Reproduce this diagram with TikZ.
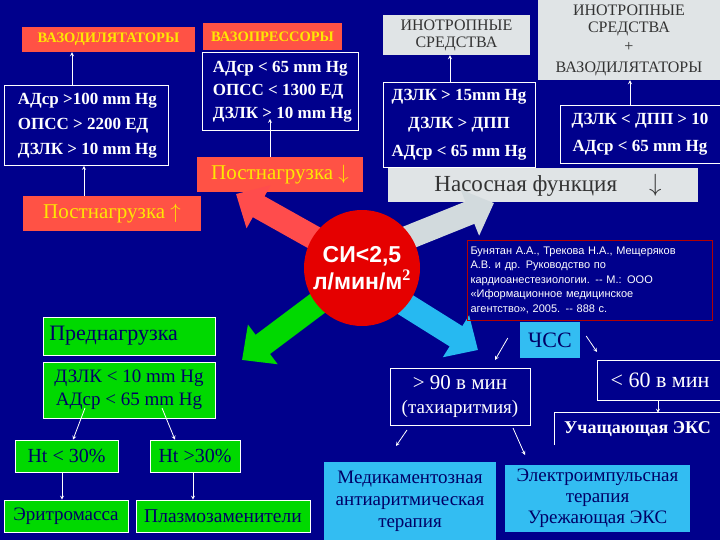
\documentclass[tikz,border=0pt]{standalone}
\usepackage{fontspec}
\setmainfont{Liberation Serif}
\newfontfamily\sansf{Liberation Sans}
\usetikzlibrary{arrows.meta}
\newcommand{\fs}[1]{\fontsize{#1}{#1}\selectfont}
\begin{document}
\begin{tikzpicture}[x=1pt,y=-1pt,
 rbox/.style={fill=red!70!white!90!orange,text=yellow!90!orange,inner sep=0pt},
 wbox/.style={draw=white,line width=0.8pt,text=white,inner sep=0pt},
 lbox/.style={fill=cyan!12!gray!25,text=black!80,inner sep=0pt},
 gbox/.style={fill=green!85!black,draw=white,line width=0.6pt,text=blue!40!black,inner sep=0pt},
 cbox/.style={fill=cyan!80!white,text=blue!40!black,inner sep=0pt},
 sa/.style={->,white,line width=0.8pt,>=stealth},
 big/.style={line width=24pt,-{Triangle[length=26pt,width=48pt]}}]
\fill[blue!55!black] (0,0) rectangle (720,540);
\useasboundingbox (0,0) rectangle (720,540);
% top-left
\node[rbox,minimum width=173pt,minimum height=25pt,font=\bfseries\fs{14.5}] (vd) at (108.5,39.5) {ВАЗОДИЛЯТАТОРЫ};
\node[rbox,minimum width=139pt,minimum height=27pt,font=\bfseries\fs{14.5}] (vp) at (272.5,36.5) {ВАЗОПРЕССОРЫ};
\node[wbox,minimum width=164pt,minimum height=80pt,align=left,font=\bfseries\fontsize{17}{25}\selectfont,anchor=north west] (l1) at (4,85) {\hspace{2pt}АДср >100 mm Hg\\\hspace{2pt}ОПСС > 2200 ЕД\\\hspace{2pt}ДЗЛК > 10 mm Hg};
\node[wbox,minimum width=156pt,minimum height=78pt,align=left,font=\bfseries\fontsize{17}{23}\selectfont,anchor=north west] (l2) at (202,52) {\hspace{4pt}АДср < 65 mm Hg\\\hspace{4pt}ОПСС < 1300 ЕД\\\hspace{4pt}ДЗЛК > 10 mm Hg};
\node[rbox,minimum width=166pt,minimum height=35pt,font=\fs{21}] (pd) at (280,174.5) {Постнагрузка $\downarrow$};
\node[rbox,minimum width=178pt,minimum height=35pt,font=\fs{21}] (pu) at (112,213.5) {Постнагрузка $\uparrow$};
\draw[sa] (l1.north-|72,0) -- (vd.south-|72,0);
\draw[sa] (pu.north-|84,0) -- (l1.south-|84,0);
\draw[sa] (pd.north-|270,0) -- ++(0,-38);
% top right
\node[lbox,minimum width=147pt,minimum height=40pt,align=center,font=\fontsize{16}{17}\selectfont] (is) at (456.5,35) {ИНОТРОПНЫЕ\\СРЕДСТВА};
\node[lbox,minimum width=182pt,minimum height=80pt,align=center,font=\fontsize{16}{17}\selectfont] (iv) at (629,40) {ИНОТРОПНЫЕ\\СРЕДСТВА\\[2pt]+\\[4pt]ВАЗОДИЛЯТАТОРЫ};
\node[wbox,minimum width=152pt,minimum height=85pt,align=center,font=\bfseries\fontsize{17}{28}\selectfont] (r1) at (459,124.5) {ДЗЛК > 15mm Hg\\ДЗЛК > ДПП\\АДср < 65 mm Hg};
\node[wbox,minimum width=160pt,minimum height=58pt,align=center,font=\bfseries\fontsize{17}{27}\selectfont] (r2) at (640,134) {ДЗЛК < ДПП > 10\\АДср < 65 mm Hg};
\draw[sa] (r1.north-|450,0) -- (is.south-|450,0);
\draw[sa] (r2.north-|630,0) -- (iv.south-|630,0);
\node[lbox,minimum width=310pt,minimum height=34pt,font=\fs{23}] (nf) at (543,185) {\hspace{10pt}Насосная функция\hspace{32pt}$\downarrow$};
% center
\draw[big,red!70!white] (318,240) -- (236,194);
\draw[big,cyan!15!gray!35] (402,240) -- (494,203);
\draw[big,green!85!black] (322,300) -- (242,360);
\draw[big,cyan!85!white] (398,300) -- (478,350);
\node[circle,fill=red!90!black,minimum size=113pt,text=white,font=\sansf\bfseries\fontsize{23}{27}\selectfont,align=center] (si) at (362,268) {СИ<2,5\\л/мин/м$^{\mathbf 2}$};
\node[draw=red!70!black,line width=0.8pt,minimum width=245pt,minimum height=80pt,text width=238pt,align=left,text=white,font=\sansf\fontsize{11}{14.5}\selectfont,inner sep=3pt] (ref) at (589.5,280) {Бунятан А.А., Трекова Н.А., Мещеряков\\А.В. и др. Руководство по\\кардиоанестезиологии. -- М.: ООО\\«Иформационное медицинское\\агентство», 2005. -- 888 с.};
% lower left
\node[gbox,minimum width=169pt,minimum height=38pt,font=\fs{22},anchor=west,text width=160pt,inner xsep=6pt] (pr) at (43,336) {Преднагрузка};
\node[gbox,minimum width=172pt,minimum height=56pt,align=center,font=\fontsize{19}{23}\selectfont] (g2) at (129,390) {ДЗЛК < 10 mm Hg\\АДср < 65 mm Hg};
\node[gbox,minimum width=103pt,minimum height=32pt,font=\fs{20}] (h1) at (66.5,456) {Ht < 30\%};
\node[gbox,minimum width=90pt,minimum height=32pt,font=\fs{20}] (h2) at (195,456) {Ht >30\%};
\node[gbox,minimum width=124pt,minimum height=32pt,font=\fs{19}] (e1) at (66,516) {Эритромасса};
\node[gbox,minimum width=174pt,minimum height=32pt,font=\fs{19.5}] (e2) at (223,516) {Плазмозаменители};
\draw[sa] (85,408) -- (h1.north-|73,0);
\draw[sa] (162,408) -- (h2.north-|175,0);
\draw[sa] (h1.south-|62,0) -- (e1.north-|62,0);
\draw[sa] (h2.south-|193,0) -- (e2.north-|193,0);
% lower right
\node[cbox,minimum width=60pt,minimum height=36pt,font=\fs{22}] (hr) at (550,340) {ЧСС};
\node[wbox,minimum width=140pt,minimum height=57pt,align=center,font=\fontsize{21}{24}\selectfont] (t1) at (460,396.5) {> 90 в мин\\{\fs{19}(тахиаритмия)}};
\node[wbox,minimum width=126pt,minimum height=40pt,font=\fs{22}] (t2) at (660,380) {< 60 в мин};
\node[text=white,font=\bfseries\fs{18},minimum width=165pt,minimum height=32pt,inner sep=0pt] (ux) at (637.5,429) {Учащающая ЭКС};
\draw[white,line width=0.8pt] (ux.south west) -- (ux.north west) -- (ux.north east) -- (ux.south east);
\node[cbox,minimum width=172pt,minimum height=78pt,align=center,font=\fontsize{19}{22}\selectfont] (m1) at (410,501) {Медикаментозная\\антиаритмическая\\терапия};
\node[cbox,minimum width=185pt,minimum height=67pt,align=center,font=\fontsize{19}{21}\selectfont] (m2) at (597.5,498.5) {Электроимпульсная\\терапия\\Урежающая ЭКС};
\draw[sa] (hr.west)++(-12,-2) -- (495,360);
\draw[sa] (hr.east)++(6,-4) -- (597,352);
\draw[sa] (407,430) -- (396,446);
\draw[sa] (513,428) -- (525,455);
\draw[sa] (t2.south-|658,0) -- (ux.north-|658,0);
\end{tikzpicture}
\end{document}
